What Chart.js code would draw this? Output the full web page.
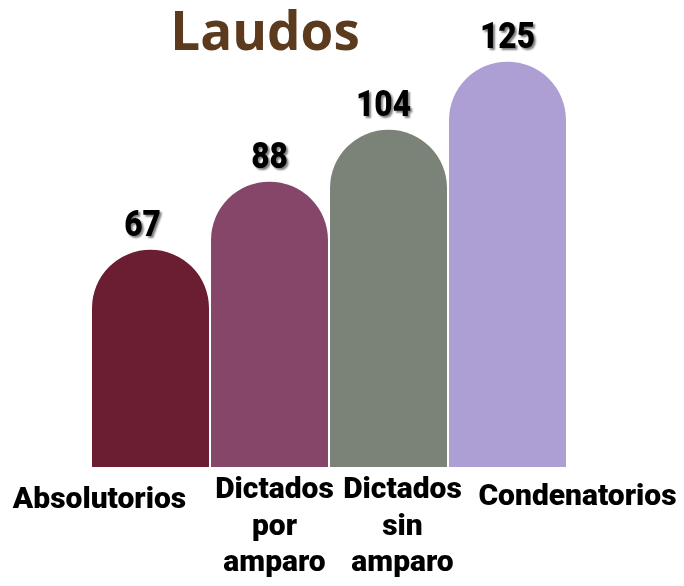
<!DOCTYPE html>
<html>
<head>
<meta charset="utf-8">
<script src="https://cdn.jsdelivr.net/npm/chart.js@4/dist/chart.umd.min.js"></script>
<style>
  html, body { margin: 0; padding: 0; background: #ffffff; }
  #wrap { width: 684px; height: 586px; position: relative; }
</style>
</head>
<body>
<div id="wrap"><canvas id="c"></canvas></div>
<script>
// ---- data ----
const titleText = 'Laudos';
const categories = [['Absolutorios'], ['Dictados', 'por', 'amparo'], ['Dictados', 'sin', 'amparo'], ['Condenatorios']];
const values = [67, 88, 104, 125];
const barColors = ['#6b1d31', '#864669', '#7b8277', '#ad9fd3'];

// ---- style (label placement tweaks, not data) ----
const labelShiftX = [-51, 5, 14, 70];
const labelBaseline = [508, 498, 498, 505];
const labelLineHeight = 36.5;
const valueShiftX = [-8, 0, -5, 0];

const labelsPlugin = {
  id: 'customLabels',
  afterDatasetsDraw(chart) {
    const ctx = chart.ctx;
    const meta = chart.getDatasetMeta(0);
    const xScale = chart.scales.x;
    ctx.save();
    ctx.textAlign = 'center';
    ctx.textBaseline = 'alphabetic';
    // value labels with shadow (slightly condensed)
    ctx.font = '900 36px Roboto';
    meta.data.forEach((bar, i) => {
      ctx.save();
      ctx.translate(bar.x + valueShiftX[i], bar.y - 14);
      ctx.scale(0.88, 1);
      ctx.shadowColor = 'rgba(0,0,0,0.5)';
      ctx.shadowOffsetX = 2;
      ctx.shadowOffsetY = 2;
      ctx.shadowBlur = 2;
      ctx.fillStyle = '#000000';
      ctx.fillText(String(values[i]), 0, 0);
      ctx.restore();
    });
    // category labels
    ctx.font = '900 30px Roboto';
    ctx.fillStyle = '#000000';
    categories.forEach((lines, i) => {
      const cx = xScale.getPixelForValue(i) + labelShiftX[i];
      lines.forEach((ln, j) => {
        ctx.fillText(ln, cx, labelBaseline[i] + j * labelLineHeight);
      });
    });
    // title
    ctx.font = 'bold 53px "Open Sans"';
    ctx.fillStyle = '#5b3a1e';
    ctx.fillText(titleText, 265, 50);
    ctx.restore();
  }
};

new Chart(document.getElementById('c'), {
  type: 'bar',
  data: {
    labels: categories.map(l => l.join(' ')),
    datasets: [{
      data: values,
      backgroundColor: barColors,
      borderWidth: 0,
      borderRadius: { topLeft: 59, topRight: 59, bottomLeft: 0, bottomRight: 0 },
      borderSkipped: 'start',
      barPercentage: 0.983,
      categoryPercentage: 1.0
    }]
  },
  options: {
    responsive: true,
    maintainAspectRatio: false,
    animation: false,
    events: [],
    layout: { padding: { left: 91, right: 117, top: 13, bottom: 119 } },
    plugins: {
      legend: { display: false },
      title: { display: false },
      tooltip: { enabled: false }
    },
    scales: {
      x: { display: false },
      y: { display: false, min: 0, max: 140 }
    }
  },
  plugins: [labelsPlugin]
});
</script>
</body>
</html>
